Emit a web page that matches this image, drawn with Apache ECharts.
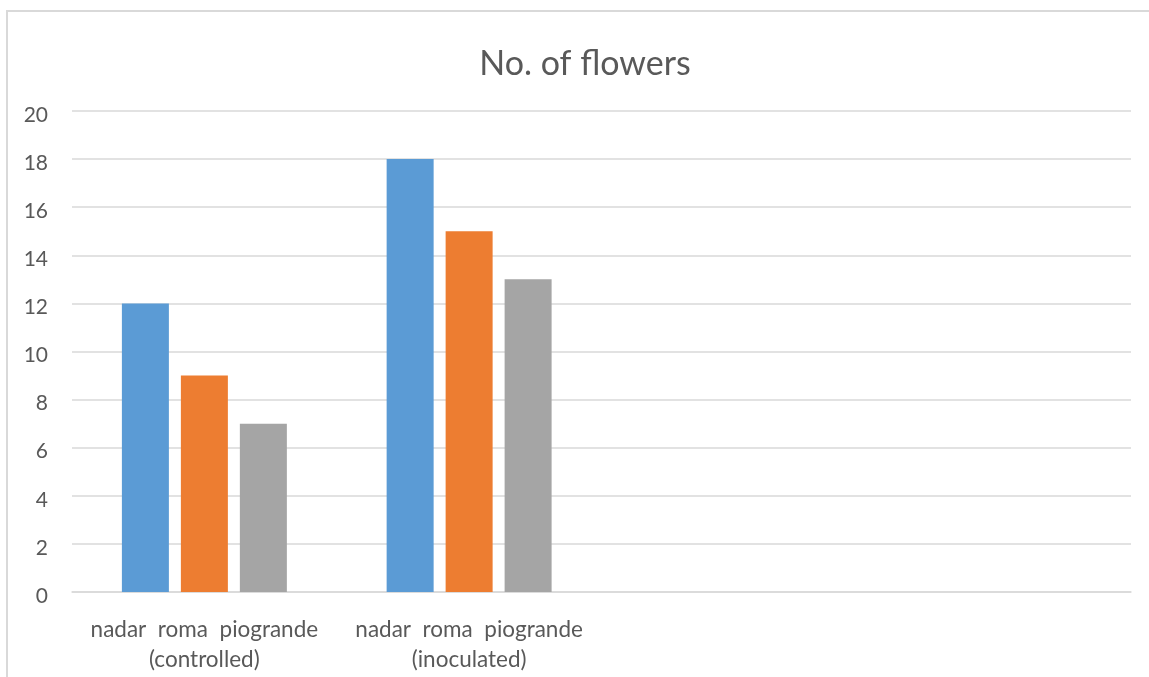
<!DOCTYPE html>
<html>
<head>
<meta charset="utf-8">
<script src="https://cdn.jsdelivr.net/npm/echarts@6/dist/echarts.min.js"></script>
<style>
  html, body { margin: 0; padding: 0; background: #fff; }
  #chart { width: 1149px; height: 677px; }
</style>
</head>
<body>
<div id="chart"></div>
<script>
// Category labels (two treatment groups plus two empty slots on the axis)
const categories = [
  'nadar  roma  piogrande\n(controlled)',
  'nadar  roma  piogrande\n(inoculated)',
  '',
  ''
];
// Number of flowers per variety
const nadar = [12, 18, null, null];
const roma = [9, 15, null, null];
const piogrande = [7, 13, null, null];
const yTicks = { min: 0, max: 20, interval: 2 };

const font = 'Lato, "Open Sans", sans-serif';
const textColor = '#595959';
const gridColor = '#D9D9D9';

const chart = echarts.init(document.getElementById('chart'));

function barSeries(name, data, color) {
  return {
    name: name,
    type: 'bar',
    data: data,
    barWidth: 47,
    barGap: '25.5%',
    itemStyle: { color: color },
    emphasis: { disabled: true }
  };
}

chart.setOption({
  animation: false,
  backgroundColor: '#fff',
  title: {
    text: 'No. of flowers',
    left: 580,
    top: 42,
    textAlign: 'center',
    textStyle: { fontFamily: font, fontSize: 34, fontWeight: 'normal', color: textColor }
  },
  graphic: [{
    type: 'rect',
    shape: { x: 7, y: 11, width: 1300, height: 900 },
    style: { fill: 'none', stroke: gridColor, lineWidth: 2 },
    silent: true
  }],
  grid: { left: 72, right: 18, top: 111, bottom: 85 },
  xAxis: {
    type: 'category',
    data: categories,
    axisLine: { show: true, lineStyle: { color: gridColor, width: 1.5 } },
    axisTick: { show: false },
    axisLabel: {
      interval: 0,
      margin: 23,
      fontFamily: font,
      fontSize: 22.5,
      lineHeight: 30,
      color: textColor
    }
  },
  yAxis: {
    type: 'value',
    min: yTicks.min,
    max: yTicks.max,
    interval: yTicks.interval,
    axisLine: { show: false },
    axisTick: { show: false },
    splitLine: { lineStyle: { color: gridColor, width: 1.5 } },
    axisLabel: {
      margin: 24,
      formatter: '{v|{value}}',
      rich: {
        v: {
          padding: [8, 0, 0, 0],
          fontFamily: font,
          fontSize: 21,
          color: textColor
        }
      }
    }
  },
  series: [
    barSeries('nadar', nadar, '#5B9BD5'),
    barSeries('roma', roma, '#ED7D31'),
    barSeries('piogrande', piogrande, '#A5A5A5')
  ]
});
</script>
</body>
</html>
